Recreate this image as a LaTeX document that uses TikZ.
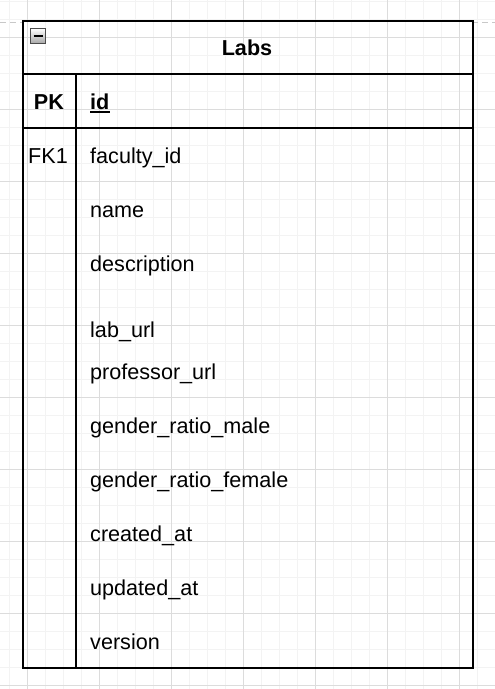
\documentclass[tikz,border=0pt]{standalone}
\usepackage{fontspec}
\setmainfont{Liberation Sans}
\definecolor{minorgrid}{HTML}{F3F3F3}
\definecolor{majorgrid}{HTML}{DCDCDC}
\definecolor{dashgray}{HTML}{C8C8C8}
\begin{document}
\begin{tikzpicture}[x=1pt,y=-1pt,
  fieldtxt/.style={anchor=base west,inner sep=0pt,font=\fontsize{21.6}{26}\selectfont},
  keytxt/.style={anchor=base,inner sep=0pt,font=\fontsize{21.6}{26}\selectfont},
  frame/.style={draw=black,line width=2pt},
]
\useasboundingbox (0,0) rectangle (495,689);
\fill[white] (0,0) rectangle (495,689);
% grid
\foreach \x in {9,27,...,495} \draw[minorgrid,line width=1pt] (\x,0) -- (\x,689);
\foreach \y in {1,19,...,689} \draw[minorgrid,line width=1pt] (0,\y) -- (495,\y);
\foreach \x in {27,99,...,495} \draw[majorgrid,line width=1pt] (\x,0) -- (\x,689);
\foreach \y in {37,109,...,689} \draw[majorgrid,line width=1pt] (0,\y) -- (495,\y);
% dashed guide
\coordinate (gl) at (0,22);
\coordinate (gr) at (495,22);
\draw[dashgray,line width=1pt,dash pattern=on 6pt off 4pt] (gl) -- (22,22);
\draw[dashgray,line width=1pt,dash pattern=on 6pt off 4pt] (472,22) -- (gr);
% table frame
\node[frame,minimum width=450pt,minimum height=647pt,inner sep=0pt,anchor=north west] (tbl) at (22,20) {};
\coordinate (h1l) at (22,74); \coordinate (h1r) at (472,74);
\coordinate (h2l) at (22,128); \coordinate (h2r) at (472,128);
\coordinate (vt) at (76,74); \coordinate (vb) at (76,667);
\draw[frame] (h1l) -- (h1r);
\draw[frame] (h2l) -- (h2r);
\draw[frame] (vt) -- (vb);
% collapse icon
\node[draw=black!70,line width=0.8pt,top color=white,bottom color=black!35,minimum size=15pt,inner sep=0pt] (icon) at (38,36) {};
\draw[black,line width=2pt] ([xshift=-4.5pt]icon.center) -- ([xshift=4.5pt]icon.center);
% title
\node[keytxt,font=\fontsize{21.6}{26}\selectfont\bfseries] (title) at (247,55) {Labs};
% key row
\node[keytxt,font=\fontsize{21.6}{26}\selectfont\bfseries] (pk) at (49,109) {PK};
\node[fieldtxt,font=\fontsize{21.6}{26}\selectfont\bfseries] (id) at (90,109) {id};
\draw[black,line width=1.6pt] ([yshift=-3pt]id.base west) -- ([yshift=-3pt]id.base east);
% fields
\node[keytxt] (fk) at (48,163) {FK1};
\node[fieldtxt] (f1) at (90,163) {faculty\_id};
\node[fieldtxt] (f2) at (90,217) {name};
\node[fieldtxt] (f3) at (90,271) {description};
\node[fieldtxt] (f4) at (90,337) {lab\_url};
\node[fieldtxt] (f5) at (90,379) {professor\_url};
\node[fieldtxt] (f6) at (90,433) {gender\_ratio\_male};
\node[fieldtxt] (f7) at (90,487) {gender\_ratio\_female};
\node[fieldtxt] (f8) at (90,541) {created\_at};
\node[fieldtxt] (f9) at (90,595) {updated\_at};
\node[fieldtxt] (f10) at (90,649) {version};
\end{tikzpicture}
\end{document}
